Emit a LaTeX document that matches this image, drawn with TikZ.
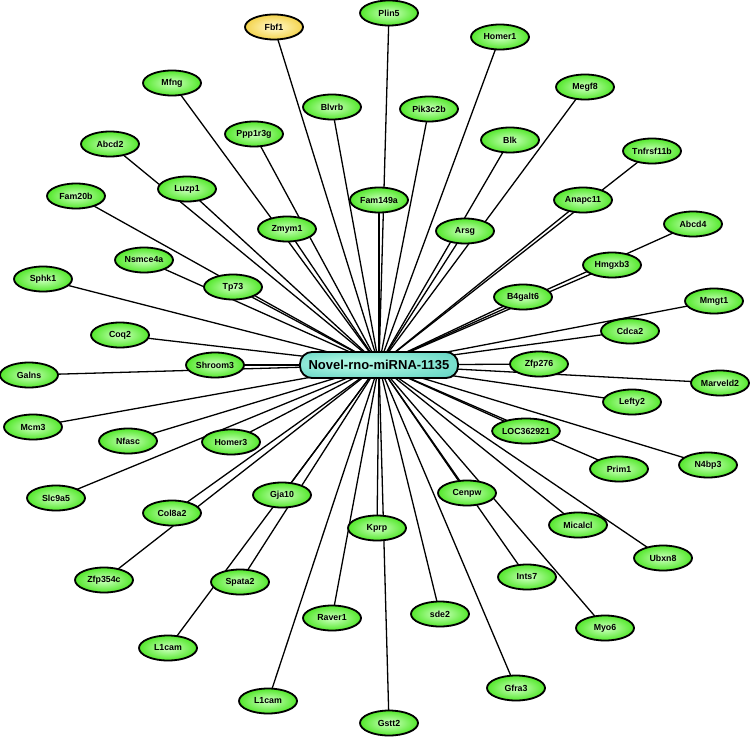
\documentclass[tikz,border=0pt]{standalone}
\usepackage{fontspec}
\setmainfont{Liberation Sans}
\usetikzlibrary{backgrounds,shadows,shapes.geometric}
\definecolor{gin}{HTML}{C0FFB0}
\definecolor{gout}{HTML}{30E000}
\definecolor{yin}{HTML}{FFF6C0}
\definecolor{yout}{HTML}{F0C828}
\definecolor{hin}{HTML}{A8F4E0}
\definecolor{hout}{HTML}{3EC4B4}
\pgfdeclareradialshading{geneshade}{\pgfpoint{0bp}{0bp}}{color(0bp)=(gin); color(3bp)=(gin); color(32bp)=(gout); color(50bp)=(gout)}
\pgfdeclareradialshading{yelshade}{\pgfpoint{0bp}{0bp}}{color(0bp)=(yin); color(3bp)=(yin); color(32bp)=(yout); color(50bp)=(yout)}
\pgfdeclareradialshading{hubshade}{\pgfpoint{-8bp}{4bp}}{color(0bp)=(hin); color(8bp)=(hin); color(50bp)=(hout)}
\begin{document}
\begin{tikzpicture}[x=1pt,y=-1pt,
  gene/.style={ellipse, draw=black, line width=1.8pt, minimum width=58pt, minimum height=25pt, inner sep=0pt,
    shading=geneshade, font=\fontsize{8.8}{9}\selectfont\bfseries,
    drop shadow={shadow xshift=0.7pt, shadow yshift=-0.9pt, opacity=0.35}},
  yel/.style={gene, shading=yelshade},
  hub/.style={rectangle, rounded corners=12pt, draw=black, line width=1.8pt, minimum width=158pt, minimum height=26pt,
    inner sep=0pt, shading=hubshade, font=\fontsize{13}{14}\selectfont\bfseries,
    drop shadow={shadow xshift=0.7pt, shadow yshift=-0.9pt, opacity=0.35}},
  edge/.style={draw=black, line width=1.3pt}]
\useasboundingbox (0,0) rectangle (750,738);
\node[hub] (hub) at (379,365) {Novel-rno-miRNA-1135};
\foreach \nm/\px/\py/\lab in {
  Plin5/389/13/Plin5, Homer1/500/37/Homer1, Mfng/172/83/Mfng, Blvrb/332/107/Blvrb,
  Pik3c2b/429/109/Pik3c2b, Megf8/585/87/Megf8, Ppp1r3g/254/134/Ppp1r3g, Blk/510/140/Blk,
  Abcd2/110/144/Abcd2, Tnfrsf11b/652/151/Tnfrsf11b, Luzp1/187/189/Luzp1, Fam149a/379/200/Fam149a,
  Fam20b/76/196/Fam20b, Zmym1/287/229/Zmym1, Arsg/465/231/Arsg, Anapc11/583/200/Anapc11,
  Abcd4/693/224/Abcd4, Nsmce4a/144/260/Nsmce4a, Hmgxb3/612/265/Hmgxb3, Sphk1/43/279/Sphk1,
  Tp73/233/287/Tp73, B4galt6/523/297/B4galt6, Mmgt1/714/301/Mmgt1, Coq2/120/335/Coq2,
  Cdca2/630/331/Cdca2, Shroom3/215/365/Shroom3, Zfp276/539/364/Zfp276, Galns/29/375/Galns,
  Marveld2/720/383/Marveld2, Lefty2/632/402/Lefty2, Mcm3/33/427/Mcm3, Nfasc/128/441/Nfasc,
  Homer3/231/442/Homer3, LOC362921/526/431/LOC362921, Prim1/619/469/Prim1, N4bp3/708/465/N4bp3,
  Slc9a5/56/498/Slc9a5, Col8a2/172/513/Col8a2, Gja10/282/495/Gja10, Cenpw/467/493/Cenpw,
  Kprp/377/528/Kprp, Micalcl/578/525/Micalcl, Ubxn8/663/558/Ubxn8, Zfp354c/104/580/Zfp354c,
  Spata2/240/582/Spata2, Ints7/527/577/Ints7, Raver1/332/618/Raver1, sde2/440/614/sde2,
  Myo6/605/628/Myo6, L1camA/168/648/L1cam, L1camB/268/701/L1cam, Gfra3/516/688/Gfra3,
  Gstt2/389/723/Gstt2}{
  \node[gene] (\nm) at (\px,\py) {\lab};
  \begin{scope}[on background layer]
    \draw[edge] (hub.center) -- (\nm.center);
  \end{scope}
}
\node[yel] (Fbf1) at (274,27) {Fbf1};
\begin{scope}[on background layer]
  \draw[edge] (hub.center) -- (Fbf1.center);
\end{scope}
\end{tikzpicture}
\end{document}
